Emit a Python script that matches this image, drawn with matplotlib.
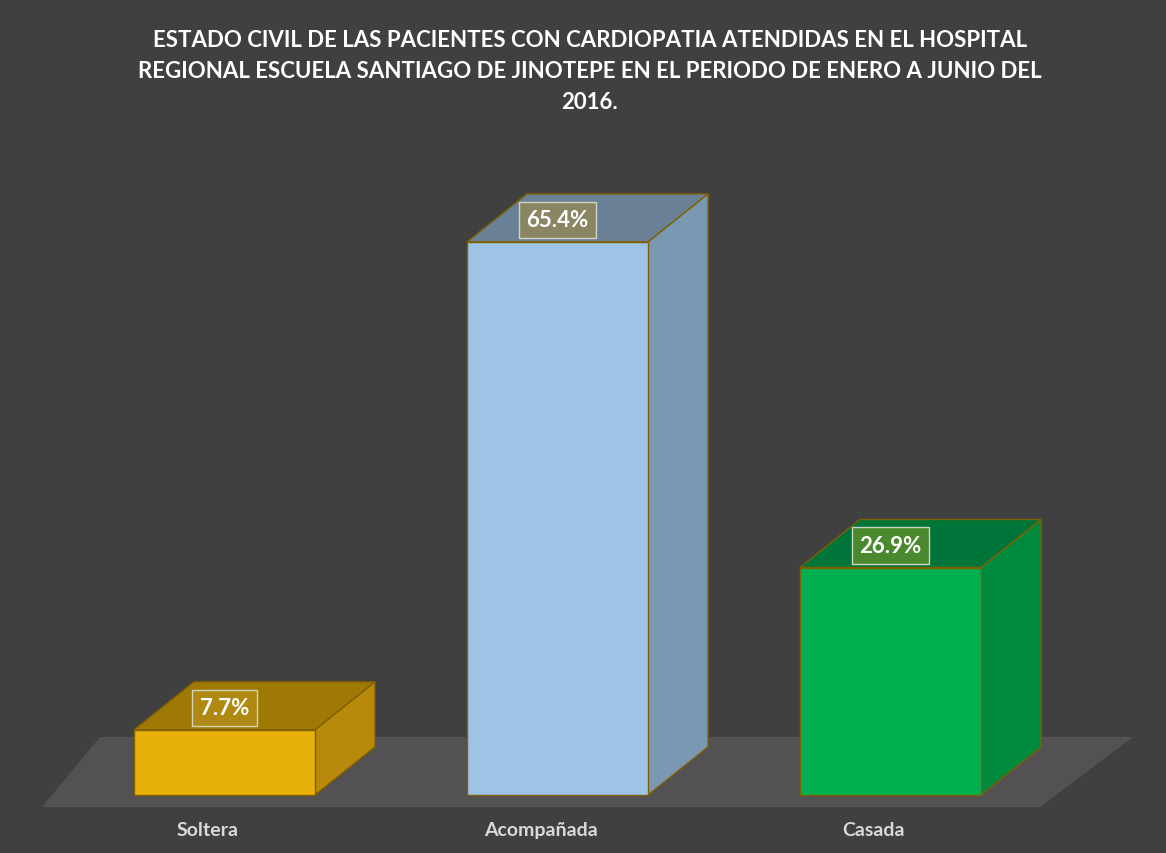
import numpy as np
import matplotlib.pyplot as plt
from matplotlib.patches import Polygon

# Datos del grafico
categorias = ['Soltera', 'Acompañada', 'Casada']
porcentajes = [7.7, 65.4, 26.9]
etiquetas = ['7.7%', '65.4%', '26.9%']

titulo = ('ESTADO CIVIL DE LAS PACIENTES CON CARDIOPATIA ATENDIDAS EN EL HOSPITAL\n'
          'REGIONAL ESCUELA SANTIAGO DE JINOTEPE EN EL PERIODO DE ENERO A JUNIO DEL\n'
          '2016.')

# Colores (frente, arriba, lado, caja etiqueta)
col_frente = ['#E8B00A', '#9DC3E6', '#00B050']
col_arriba = ['#9E7A05', '#6A8097', '#00753A']
col_lado = ['#B8890A', '#7A98B2', '#008A3E']
col_caja = ['#B08A12', '#8C8762', '#4F8B2E']
borde = '#7F6000'

fondo = '#404040'
piso = '#535152'

ancho = 0.544      # ancho de la barra en unidades de categoria
dx = 0.18          # profundidad horizontal
dy = 5.68          # profundidad vertical

fig = plt.figure(figsize=(11.66, 8.54), dpi=100)
fig.patch.set_facecolor(fondo)
ax = fig.add_axes([0, 0, 1, 1])
ax.set_facecolor(fondo)
ax.set_xlim(-0.674, 2.827)
ax.set_ylim(-6.86, 94.13)
ax.axis('off')

# Piso
ax.add_patch(Polygon([(-0.548, -1.42), (2.449, -1.42), (2.728, 6.86), (-0.374, 6.86)],
                     closed=True, facecolor=piso, edgecolor='none', zorder=1))

x = np.arange(len(categorias))
for i, v in enumerate(porcentajes):
    x0 = x[i] - ancho / 2
    x1 = x[i] + ancho / 2
    # frente
    ax.add_patch(Polygon([(x0, 0), (x1, 0), (x1, v), (x0, v)], closed=True,
                         facecolor=col_frente[i], edgecolor=borde, lw=1.0, zorder=3))
    # arriba
    ax.add_patch(Polygon([(x0, v), (x1, v), (x1 + dx, v + dy), (x0 + dx, v + dy)], closed=True,
                         facecolor=col_arriba[i], edgecolor=borde, lw=1.0, zorder=2))
    # lado
    ax.add_patch(Polygon([(x1, 0), (x1 + dx, dy), (x1 + dx, v + dy), (x1, v)], closed=True,
                         facecolor=col_lado[i], edgecolor=borde, lw=1.0, zorder=2))
    # etiqueta de datos
    ax.text(x[i], v + 2.6, etiquetas[i], ha='center', va='center', color='white',
            fontsize=16, fontweight='bold', family='Lato', zorder=5,
            bbox=dict(boxstyle='square,pad=0.35', facecolor=col_caja[i],
                      edgecolor='#D8D8C8', lw=1.0, alpha=0.95))
    # categoria
    ax.text(x[i] - 0.05, -4.14, categorias[i], ha='center', va='center', color='#D9D9D9',
            fontsize=14, fontweight='bold', family='Lato')

fig.text(0.506, 0.965, titulo, ha='center', va='top', color='white', fontsize=16,
         fontweight='bold', family='Lato', linespacing=1.6)

fig.savefig('out.png', dpi=100, facecolor=fondo)
